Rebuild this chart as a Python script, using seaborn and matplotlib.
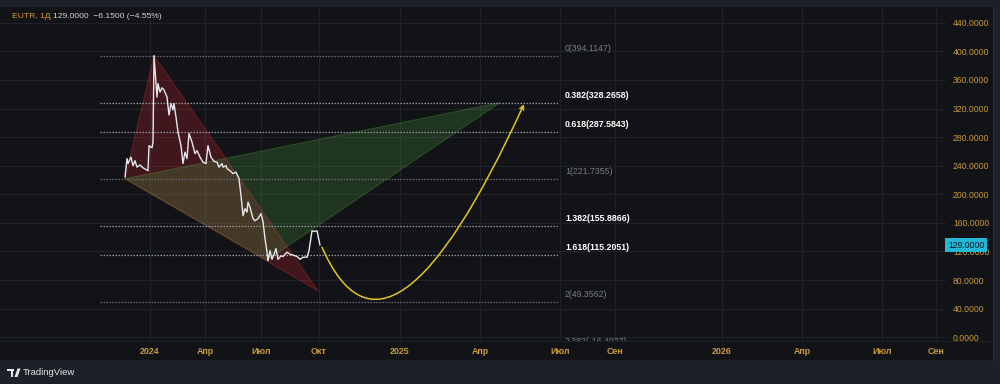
import matplotlib
matplotlib.use("Agg")
import matplotlib.pyplot as plt
import matplotlib.transforms as mtransforms
from matplotlib.patches import Polygon, Rectangle, FancyArrowPatch
from matplotlib.path import Path
import seaborn as sns

# ---------------- data ----------------
ticker = "EUTR, 1Д"
quote_text = "129.0000  −6.1500 (−4.55%)"
last_price = 129.0

# bar index (time position) and close price
price_x = [125, 127, 128, 131, 133, 135, 137, 140, 143, 148, 149, 152, 153, 154, 157, 158,
           160, 162, 164, 167, 169, 171, 173, 174, 176, 178, 181, 183, 185, 187, 189, 192,
           195, 197, 200, 203, 206, 208, 211, 214, 217, 219, 222, 223, 226, 227, 230, 233,
           236, 239, 241, 243, 245, 247, 248, 250, 253, 255, 258, 261, 263, 265, 267, 268,
           270, 272, 274, 276, 278, 281, 283, 287, 290, 293, 297, 300, 303, 307, 309, 312,
           314, 317, 318, 320]
price_y = [224, 250, 243, 252, 240, 247, 238, 241, 237, 233, 268, 265, 273, 394, 336, 355,
           343, 349, 346, 336, 311, 327, 318, 327, 308, 287, 268, 243, 259, 250, 285, 273,
           257, 261, 252, 245, 243, 268, 252, 246, 245, 238, 243, 238, 240, 236, 233, 229,
           231, 222, 198, 170, 180, 175, 189, 182, 166, 163, 166, 173, 162, 138, 119, 107,
           121, 109, 116, 124, 109, 114, 113, 119, 116, 115, 113, 109, 112, 112, 121, 149,
           148, 149, 142, 129]

# Fibonacci levels
fib_ratios = ["0", "0.382", "0.618", "1", "1.382", "1.618", "2", "2.382"]
fib_values = [394.1147, 328.2658, 287.5843, 221.7355, 155.8866, 115.2051, 49.3562, -16.4927]
fib_highlight = [False, True, True, False, True, True, False, False]
fib_bar_start, fib_bar_end, fib_label_bar = 100, 558, 565

# drawn triangles (bar, price)
red_tri_x = [125, 154, 318]
red_tri_y = [221.7355, 394.1147, 65.0]
green_tri_x = [125, 500, 267]
green_tri_y = [221.7355, 328.2658, 108.0]

# projection curve: start, control, end (quadratic bezier)
curve_x = [322, 388.6, 524]
curve_y = [126.0, -87.6, 326.0]

# axes
time_ticks = [150, 205, 261, 319, 400, 480, 560, 615, 722, 802, 882, 936]
time_labels = ["2024", "Апр", "Июл", "Окт", "2025", "Апр", "Июл", "Сен",
               "2026", "Апр", "Июл", "Сен"]
price_ticks = [0, 40, 80, 120, 160, 200, 240, 280, 320, 360, 400, 440]

# ---------------- style ----------------
sns.set_theme(style="dark")
plt.rcParams["font.family"] = ["Liberation Sans", "DejaVu Sans"]

OUTER = "#1e2029"
PANE = "#121316"
GRID = "#1f2229"
GOLD = "#c99a3a"
TXT = "#d1d4dc"

W, H = 1000, 384
fig = plt.figure(figsize=(W / 100, H / 100), dpi=100)
fig.patch.set_facecolor(OUTER)

# pane background (chart + scales)
fig.add_artist(Rectangle((0, (H - 360) / H), 993 / W, 353 / H, transform=fig.transFigure,
                         facecolor=PANE, edgecolor="none", zorder=0))

ax = fig.add_axes([0, (H - 341) / H, 946 / W, 334 / H])
ax.set_facecolor(PANE)
ax.set_xlim(0, 946)
ax.set_ylim(-5.2, 462)

for s in ax.spines.values():
    s.set_visible(False)

ax.set_xticks(time_ticks)
ax.set_xticklabels(time_labels)
ax.set_yticks(price_ticks)
ax.set_yticklabels([f"{v:.4f}" for v in price_ticks])
ax.yaxis.tick_right()
ax.tick_params(axis="y", length=0, pad=5, labelsize=6.2, labelcolor=GOLD)
ax.tick_params(axis="x", length=0, pad=4.5, labelsize=6.4, labelcolor=GOLD)
for t in ax.get_xticklabels():
    t.set_fontweight("bold")
ax.grid(True, color=GRID, lw=0.9)
ax.set_axisbelow(True)

# triangles
ax.add_patch(Polygon(list(zip(red_tri_x, red_tri_y)), closed=True,
                     facecolor=(0.80, 0.15, 0.20, 0.25), edgecolor=(0.80, 0.15, 0.20, 0.35),
                     lw=0.8, zorder=2))
ax.add_patch(Polygon(list(zip(green_tri_x, green_tri_y)), closed=True,
                     facecolor=(0.35, 0.75, 0.30, 0.20), edgecolor=(0.35, 0.75, 0.30, 0.25),
                     lw=0.8, zorder=2))

# fib levels
for r, v, hl in zip(fib_ratios, fib_values, fib_highlight):
    lc = "#9598a1" if hl else "#6a6d78"
    ax.plot([fib_bar_start, fib_bar_end], [v, v], color=lc, lw=0.9,
            linestyle=(0, (1.2, 1.2)), zorder=3)
    ax.annotate(f"{r}({v:.4f})", xy=(fib_label_bar, v), xytext=(0, 2),
                textcoords="offset points", va="bottom", ha="left",
                fontsize=6.3, color="#ffffff" if hl else "#787b86",
                fontweight="bold" if hl else "normal", annotation_clip=False,
                clip_on=True, zorder=4)

# price line
sns.lineplot(x=price_x, y=price_y, ax=ax, color="#e6e8ee", lw=1.0, zorder=5)

# projection curve with arrow
curve_path = Path(list(zip(curve_x, curve_y)), [Path.MOVETO, Path.CURVE3, Path.CURVE3])
arrow = FancyArrowPatch(path=curve_path, arrowstyle="->", mutation_scale=7,
                        color="#e3c51d", lw=1.1, zorder=6)
ax.add_patch(arrow)

# last price label on scale
trans = mtransforms.blended_transform_factory(ax.transAxes, ax.transData)
ax.text(1.002, last_price, "129.0000", transform=trans, ha="left", va="center",
        fontsize=6.2, color="#10141c", clip_on=False, zorder=10,
        bbox=dict(boxstyle="square,pad=0.28", facecolor="#22b7d2", edgecolor="none"))

# separators
fig.add_artist(plt.Line2D([0, 993 / W], [(H - 341) / H] * 2, transform=fig.transFigure,
                          color="#1c1f26", lw=0.8))
fig.add_artist(plt.Line2D([993 / W] * 2, [(H - 360) / H, (H - 7) / H],
                          transform=fig.transFigure, color="#2a2d36", lw=0.8))

# title
fig.text(12 / W, 1 - 16 / H, ticker, color="#d39b34", fontsize=6.1, va="center", ha="left")
fig.text(53 / W, 1 - 16 / H, quote_text, color=TXT, fontsize=6.1, va="center", ha="left")

# TradingView logo
LOGO = "#e6e6e6"
fig.add_artist(Rectangle((7 / W, 1 - 371 / H), 6.5 / W, 2.5 / H, transform=fig.transFigure,
                         facecolor=LOGO, edgecolor="none"))
fig.add_artist(Rectangle((10.5 / W, 1 - 377 / H), 2.8 / W, 8 / H, transform=fig.transFigure,
                         facecolor=LOGO, edgecolor="none"))
fig.add_artist(Polygon([(14.5 / W, 1 - 377 / H), (17.5 / W, 1 - 368.5 / H),
                        (20.5 / W, 1 - 368.5 / H), (17.5 / W, 1 - 377 / H)],
                       closed=True, transform=fig.transFigure, facecolor=LOGO,
                       edgecolor="none"))
fig.text(22.5 / W, 1 - 372.5 / H, "TradingView", color=LOGO, fontsize=6.8,
         va="center", ha="left")

fig.savefig("out.png", dpi=100, facecolor=fig.get_facecolor())
